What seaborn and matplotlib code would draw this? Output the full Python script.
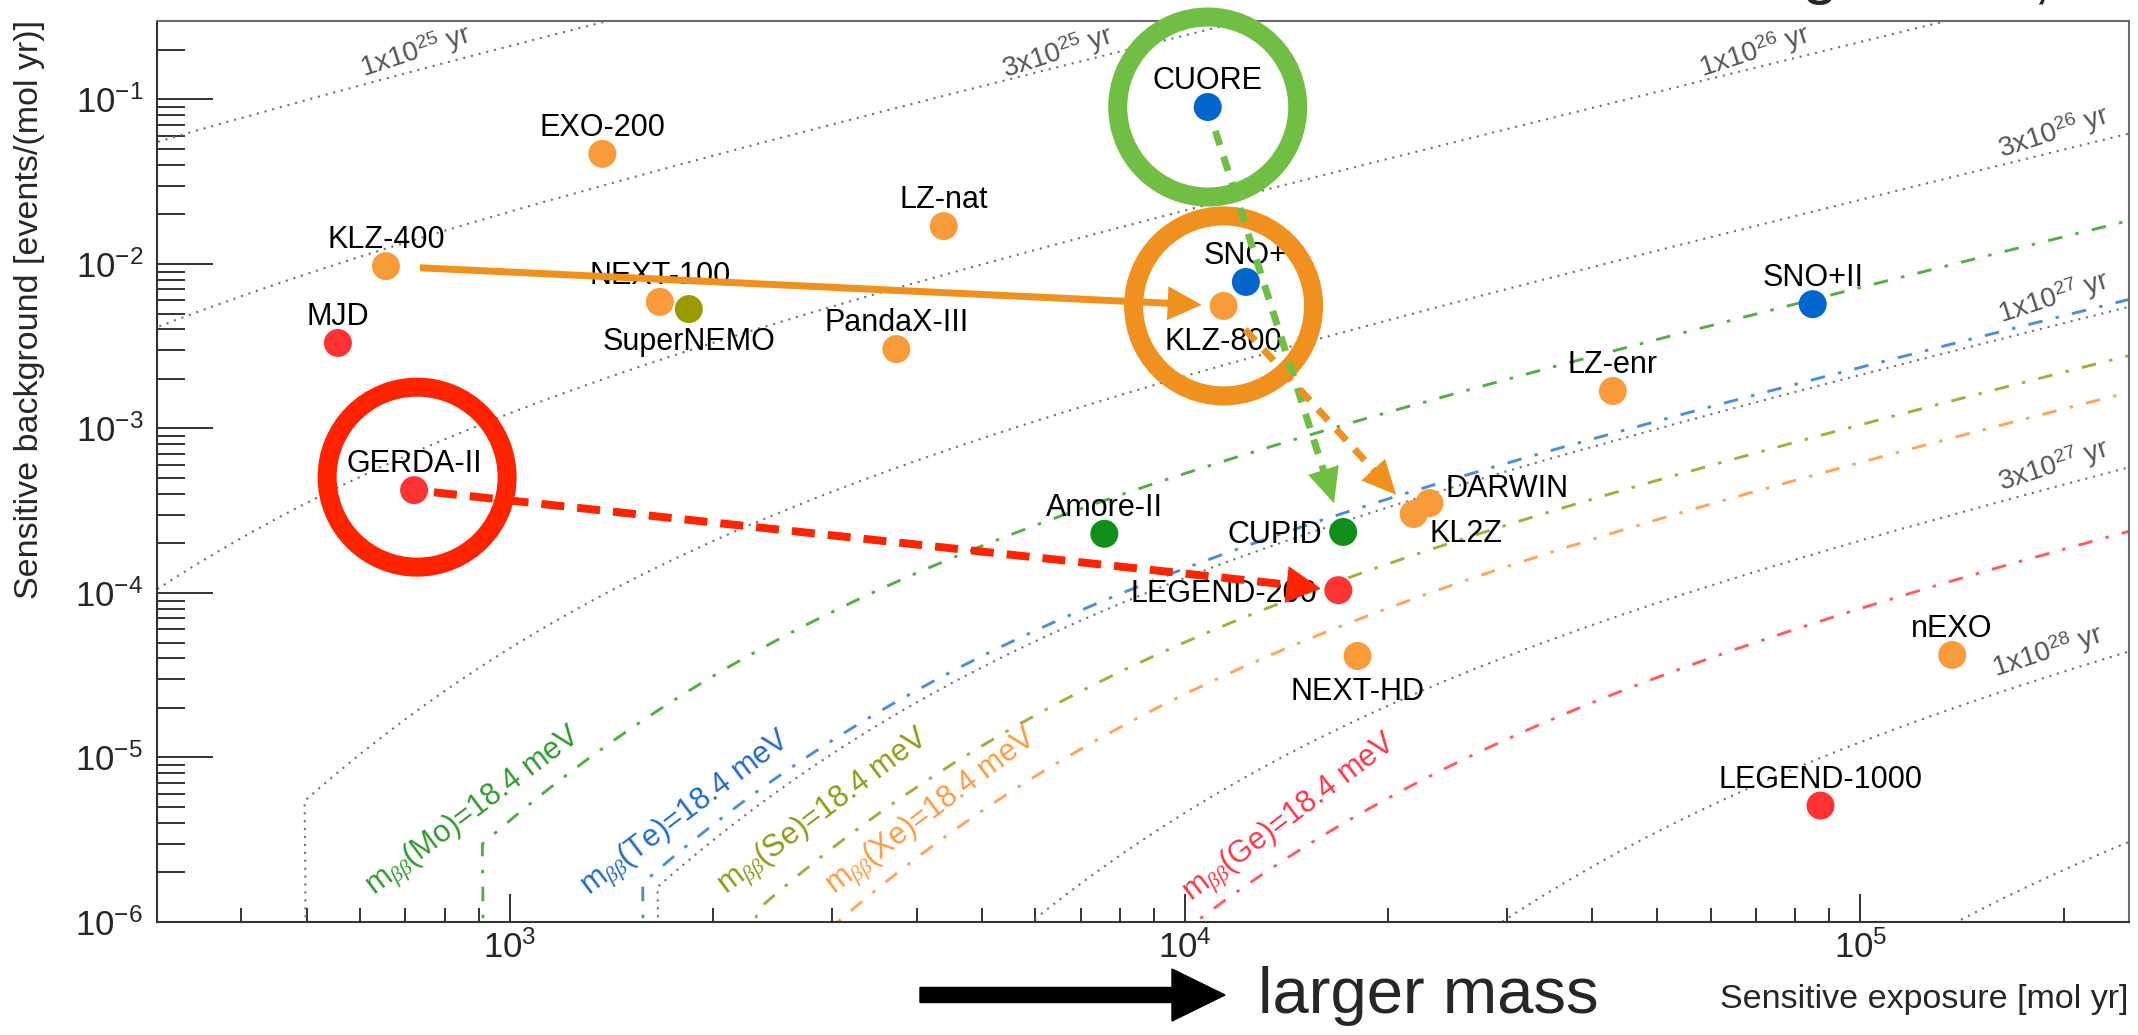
import math
from statistics import NormalDist

import numpy as np
import pandas as pd
import matplotlib
matplotlib.use("Agg")
import matplotlib.pyplot as plt
import matplotlib.patches as mpatches
import matplotlib.lines as mlines
from matplotlib.transforms import IdentityTransform
from matplotlib.ticker import LogLocator, NullFormatter
import seaborn as sns

# ---------------------------------------------------------------- data
experiments = ["CUORE", "EXO-200", "LZ-nat", "KLZ-400", "NEXT-100", "SuperNEMO",
               "MJD", "PandaX-III", "SNO+", "KLZ-800", "SNO+II", "LZ-enr",
               "GERDA-II", "DARWIN", "KL2Z", "Amore-II", "CUPID", "LEGEND-200",
               "NEXT-HD", "nEXO", "LEGEND-1000"]
isotopes = ["Te", "Xe", "Xe", "Xe", "Xe", "Se",
            "Ge", "Xe", "Te", "Xe", "Te", "Xe",
            "Ge", "Xe", "Xe", "Mo", "Mo", "Ge",
            "Xe", "Xe", "Ge"]
exposure = [1.08e4, 1.37e3, 4.39e3, 655, 1.667e3, 1.84e3,
            556, 3.735e3, 1.23e4, 1.14e4, 8.5e4, 4.3e4,
            721, 2.30e4, 2.18e4, 7.59e3, 1.714e4, 1.686e4,
            1.80e4, 1.368e5, 8.73e4]                       # mol yr
background = [0.090, 0.0467, 0.0170, 0.0097, 5.88e-3, 5.32e-3,
              3.31e-3, 3.04e-3, 7.78e-3, 5.56e-3, 5.7e-3, 1.69e-3,
              4.22e-4, 3.52e-4, 3.02e-4, 2.29e-4, 2.35e-4, 1.04e-4,
              4.14e-5, 4.2e-5, 5.1e-6]                     # events/(mol yr)

# iso-sensitivity contours (3 sigma discovery half-life, yr)
halflife_levels = [1e25, 3e25, 1e26, 3e26, 1e27, 3e27, 1e28, 3e28]
labelled_levels = [1e25, 3e25, 1e26, 3e26, 1e27, 3e27, 1e28]

# half-lives matching m_bb = 18.4 meV for each isotope
mbb_value = 18.4
mbb_isotopes = ["Mo", "Te", "Se", "Xe", "Ge"]
mbb_halflife = [5.5e26, 9.5e26, 1.4e27, 1.8e27, 4.6e27]

# ---------------------------------------------------------------- styles
point_colors = {"Xe": "#F99B3A", "Te": "#0066CC", "Mo": "#0F8F1A",
                "Se": "#999900", "Ge": "#FF3333"}
mbb_line_colors = {"Mo": "#52B043", "Te": "#4A8FDB", "Se": "#A8AC3A",
                   "Xe": "#FFA459", "Ge": "#FF5C5C"}
mbb_text_colors = {"Mo": "#2E9B2E", "Te": "#1F6AD0", "Se": "#8E9A12",
                   "Xe": "#FF9A3C", "Ge": "#FF3344"}

# label placement for each experiment: (dx px, dy px, ha)
label_place = {
    "DARWIN": (16, 6, "left"), "KL2Z": (16, -28, "left"),
    "CUPID": (-21, -11, "right"), "LEGEND-200": (-21, -12, "right"),
    "SuperNEMO": (0, -41, "center"), "KLZ-800": (0, -44, "center"),
    "NEXT-HD": (0, -44, "center"),
}

W, H = 2138, 1035
AX_L, AX_R, AX_T, AX_B = 157, 2129, 21, 922      # axes frame in pixels (from top)

plt.rcdefaults()
sns.set_theme(style="ticks")
plt.rcParams.update({
    "font.family": ["Liberation Sans", "DejaVu Sans"],
    "mathtext.fontset": "custom",
    "mathtext.rm": "Liberation Sans",
    "mathtext.it": "Liberation Serif:italic",
    "mathtext.bf": "Liberation Sans:bold",
    "axes.linewidth": 1.5,
})

# ---------------------------------------------------------------- sensitivity model
N_A = 6.02214076e23
K = math.log(2) * N_A          # decays per mol of isotope per unit 1/T
ALPHA = 0.0027                 # 3 sigma p-value
Z3 = NormalDist().inv_cdf(1 - ALPHA)


def reg_gamma_p(a, x):
    """Regularized lower incomplete gamma function P(a, x)."""
    if x <= 0:
        return 0.0
    lg = math.lgamma(a)
    if x < a + 1.0:
        ap, s = a, 1.0 / a
        d = s
        for _ in range(20000):
            ap += 1.0
            d *= x / ap
            s += d
            if abs(d) < abs(s) * 1e-13:
                break
        return s * math.exp(-x + a * math.log(x) - lg)
    tiny = 1e-300
    bb = x + 1.0 - a
    c = 1.0 / tiny
    d = 1.0 / bb
    h = d
    for i in range(1, 20000):
        an = -i * (i - a)
        bb += 2.0
        d = an * d + bb
        if abs(d) < tiny:
            d = tiny
        c = bb + an / c
        if abs(c) < tiny:
            c = tiny
        d = 1.0 / d
        dl = d * c
        h *= dl
        if abs(dl - 1.0) < 1e-13:
            break
    return 1.0 - math.exp(-x + a * math.log(x) - lg) * h


def wh_quantile(n, z):
    return n * (1.0 - 1.0 / (9.0 * n) + z / (3.0 * math.sqrt(n))) ** 3


def discovery_counts(b):
    """Mean signal counts giving a 50% chance of a 3 sigma excess over b."""
    if 1.0 - math.exp(-b) <= ALPHA:
        return math.log(2) - b
    if b <= 30:
        lo, hi = 1.0, b + 12 * math.sqrt(b) + 20
        for _ in range(60):
            mid = 0.5 * (lo + hi)
            if reg_gamma_p(mid, b) > ALPHA:
                lo = mid
            else:
                hi = mid
        n = 0.5 * (lo + hi)
        lo, hi = 0.0, n + 12 * math.sqrt(n) + 20
        for _ in range(60):
            mid = 0.5 * (lo + hi)
            if reg_gamma_p(n, mid) < 0.5:
                lo = mid
            else:
                hi = mid
        return 0.5 * (lo + hi) - b
    lo, hi = b, b + 12 * math.sqrt(b) + 20
    for _ in range(80):
        mid = 0.5 * (lo + hi)
        if wh_quantile(mid, -Z3) < b:
            lo = mid
        else:
            hi = mid
    n = 0.5 * (lo + hi)
    return wh_quantile(n, 0.0) - b


b_grid = np.logspace(-7, 5.7, 700)
s_grid = np.array([discovery_counts(b) for b in b_grid])


def contour(T):
    E = T * s_grid / K
    B = b_grid / E
    keep = (E > 150) & (E < 4e5) & (B > 1e-8) & (B < 2.0)
    return pd.DataFrame({"exposure": E[keep], "background": B[keep]})


def level_text(T):
    e = int(math.floor(math.log10(T) + 1e-9))
    m = int(round(T / 10 ** e))
    return f"{m}x10$^{{{e}}}$ yr"


# ---------------------------------------------------------------- figure
fig = plt.figure(figsize=(W / 100, H / 100), dpi=100)
ax = fig.add_axes([AX_L / W, (H - AX_B) / H, (AX_R - AX_L) / W, (AX_B - AX_T) / H])
ax.set_xscale("log")
ax.set_yscale("log")

for T in halflife_levels:
    sns.lineplot(data=contour(T), x="exposure", y="background", sort=False,
                 estimator=None, ax=ax, color="#707070", lw=1.5,
                 linestyle=(0, (1, 2.8)), zorder=1)

for iso, T in zip(mbb_isotopes, mbb_halflife):
    sns.lineplot(data=contour(T), x="exposure", y="background", sort=False,
                 estimator=None, ax=ax, color=mbb_line_colors[iso], lw=2.1,
                 linestyle=(0, (5, 4.6, 1.2, 4.6)), zorder=1.5)

points = pd.DataFrame({"experiment": experiments, "isotope": isotopes,
                       "exposure": exposure, "background": background})
sns.scatterplot(data=points, x="exposure", y="background", hue="isotope",
                palette=point_colors, s=406, edgecolor="none", linewidth=0,
                legend=False, ax=ax, zorder=4)

ax.set_xlim(300, 2.5e5)
ax.set_ylim(1e-6, 0.3)
ax.set_xlabel("")
ax.set_ylabel("")

for axis in (ax.xaxis, ax.yaxis):
    axis.set_major_locator(LogLocator(base=10, numticks=20))
    axis.set_minor_locator(LogLocator(base=10, subs=np.arange(2, 10), numticks=200))
    axis.set_minor_formatter(NullFormatter())
ax.tick_params(axis="both", which="both", direction="in", top=False, right=False,
               width=1.4, color="#333333", labelsize=25)
ax.tick_params(axis="y", which="major", length=40, pad=10)
ax.tick_params(axis="y", which="minor", length=20)
ax.tick_params(axis="x", which="major", length=20, pad=6)
ax.tick_params(axis="x", which="minor", length=10)
for side in ("left", "bottom"):
    ax.spines[side].set_color("#333333")
for side in ("top", "right"):
    ax.spines[side].set_color("#6a6a6a")


def axes_frac(px, py):
    return (px - AX_L) / (AX_R - AX_L), (AX_B - py) / (AX_B - AX_T)


# experiment names
for name, x, y in zip(experiments, exposure, background):
    dx, dy, ha = label_place.get(name, (0, 18, "center"))
    ax.annotate(name, (x, y), xytext=(dx, dy), textcoords="offset pixels",
                ha=ha, va="baseline", fontsize=22, color="black", zorder=6)

# half-life contour labels
level_label_pos = [(416, 52), (1058, 53), (1755, 52), (2054, 133),
                   (2054, 298), (2054, 466), (2048, 652)]
for T, (px, py) in zip(labelled_levels, level_label_pos):
    fx, fy = axes_frac(px, py)
    ax.text(fx, fy, level_text(T), transform=ax.transAxes, rotation=18,
            rotation_mode="anchor", ha="center", va="center", fontsize=20,
            color="#555555", zorder=3)

# m_bb labels
mbb_label_pos = [(474, 812), (686, 814), (824, 812), (932, 812), (1290, 818)]
for iso, (px, py) in zip(mbb_isotopes, mbb_label_pos):
    fx, fy = axes_frac(px, py)
    ax.text(fx, fy, rf"m$_{{\beta\beta}}$({iso})={mbb_value} meV",
            transform=ax.transAxes, rotation=37, rotation_mode="anchor",
            ha="center", va="center", fontsize=22, color=mbb_text_colors[iso],
            zorder=3)

# ---------------------------------------------------------------- highlights
fig.canvas.draw()
idx = {n: i for i, n in enumerate(experiments)}


def pix(name):
    i = idx[name]
    return np.array(ax.transData.transform((exposure[i], background[i])))


def ring(name, color, offset=(0, 0), radius=90, width_px=19):
    c = pix(name) + np.array(offset)
    fig.add_artist(mpatches.Circle(c, radius, fill=False, ec=color,
                                   lw=width_px * 0.72, transform=IdentityTransform(),
                                   zorder=5))


def arrow(a, b, color, shrink_a, shrink_b, lw_px=7, head_len=34, head_w=34,
          dash=None):
    p0, p1 = pix(a), pix(b)
    u = (p1 - p0) / np.linalg.norm(p1 - p0)
    n = np.array([-u[1], u[0]])
    start = p0 + u * shrink_a
    tip = p1 - u * shrink_b
    base = tip - u * head_len
    shaft = mlines.Line2D([start[0], base[0] + u[0] * 2], [start[1], base[1] + u[1] * 2],
                          lw=lw_px * 0.72, color=color, solid_capstyle="butt",
                          dash_capstyle="butt", transform=IdentityTransform(),
                          zorder=7)
    if dash is not None:
        shaft.set_dashes((dash[0] / lw_px, dash[1] / lw_px))
    fig.add_artist(shaft)
    head = mpatches.Polygon([tip, base + n * head_w / 2, base - n * head_w / 2],
                            closed=True, fc=color, ec="none",
                            transform=IdentityTransform(), zorder=7)
    fig.add_artist(head)


ring("CUORE", "#70BE44")
ring("KLZ-800", "#F0901E")
ring("GERDA-II", "#FF2300", offset=(3, 13))

arrow("KLZ-400", "KLZ-800", "#F0901E", 34, 22, lw_px=7, head_len=34, head_w=34)
arrow("CUORE", "CUPID", "#70BE44", 25, 30, lw_px=7, head_len=35, head_w=32,
      dash=(15, 12))
arrow("KLZ-800", "KL2Z", "#F0901E", 32, 26, lw_px=7, head_len=34, head_w=32,
      dash=(15, 12))
arrow("GERDA-II", "LEGEND-200", "#FF2300", 20, 18, lw_px=8, head_len=34, head_w=37,
      dash=(23, 13))

# ---------------------------------------------------------------- outer texts
fig.text(30 / W, 1 - 20 / H, "Sensitive background [events/(mol yr)]",
         rotation=90, ha="center", va="top", fontsize=24.5)
fig.text(2128 / W, (H - 1008) / H, "Sensitive exposure [mol yr]",
         ha="right", va="baseline", fontsize=24.5)

fig.add_artist(mpatches.FancyArrow(920, H - 995, 305, 0, width=15, head_width=52,
                                   head_length=53, length_includes_head=True,
                                   color="black", transform=IdentityTransform()))
fig.text(1258 / W, (H - 1013) / H, "larger mass", ha="left", va="baseline",
         fontsize=47)

# clipped line of text running above the top edge
fig.text(1819 / W, (H + 8) / H, "g", ha="center", va="baseline", fontsize=47)
fig.text(2041 / W, (H + 5) / H, ",", ha="center", va="baseline", fontsize=47)

fig.savefig("out.png", dpi=100)
